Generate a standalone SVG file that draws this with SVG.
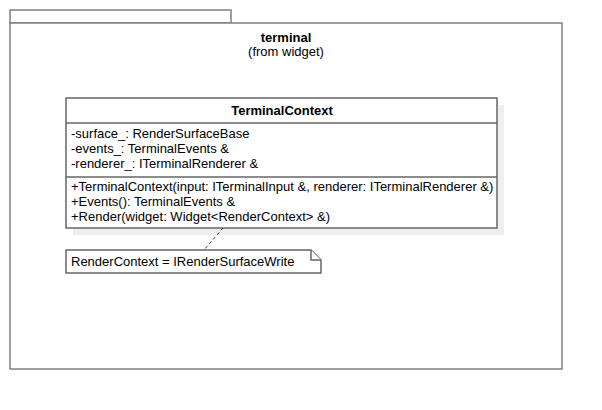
<svg xmlns="http://www.w3.org/2000/svg" width="602" height="410" viewBox="0 0 602 410">
<style>
.frame{fill:#fff;stroke:#7f7f7f;stroke-width:1.5}
.box{fill:#fff;stroke:#666;stroke-width:1.5}
.shadow{fill:#efefef}
text{font-family:"Liberation Sans",Arial,sans-serif;font-size:13px;fill:#000}
.b{font-weight:bold}
.c{text-anchor:middle}
.dash{stroke:#333;stroke-width:1;stroke-dasharray:3,3;fill:none}
</style>
<rect width="602" height="410" fill="#fff"/>
<g id="package-terminal">
<rect class="frame" x="10" y="10" width="221" height="13"/>
<rect class="frame" x="10" y="23" width="552" height="346"/>
<text class="b c" x="286" y="42">terminal</text>
<text class="c" x="286" y="56">(from widget)</text>
</g>
<g id="class-TerminalContext">
<rect class="shadow" x="73" y="105" width="431" height="130"/>
<rect class="box" x="66" y="98" width="431" height="130"/>
<line class="box" x1="66" y1="123" x2="497" y2="123"/>
<line class="box" x1="66" y1="177" x2="497" y2="177"/>
<text class="b c" x="282" y="115">TerminalContext</text>
<text x="71" y="138">-surface_: RenderSurfaceBase</text>
<text x="71" y="153">-events_: TerminalEvents &amp;</text>
<text x="71" y="168">-renderer_: ITerminalRenderer &amp;</text>
<text x="71" y="191">+TerminalContext(input: ITerminalInput &amp;, renderer: ITerminalRenderer &amp;)</text>
<text x="71" y="206">+Events(): TerminalEvents &amp;</text>
<text x="71" y="221">+Render(widget: Widget&lt;RenderContext&gt; &amp;)</text>
</g>
<g id="note-RenderContext">
<path class="box" d="M66,250 H311 L321,260 V273 H66 Z"/>
<path class="box" d="M311,250 V260 H321" fill="none"/>
<text x="71" y="266">RenderContext = IRenderSurfaceWrite</text>
</g>
<g id="connectors">
<line class="dash" x1="223" y1="228" x2="204" y2="250"/>
</g>
</svg>
